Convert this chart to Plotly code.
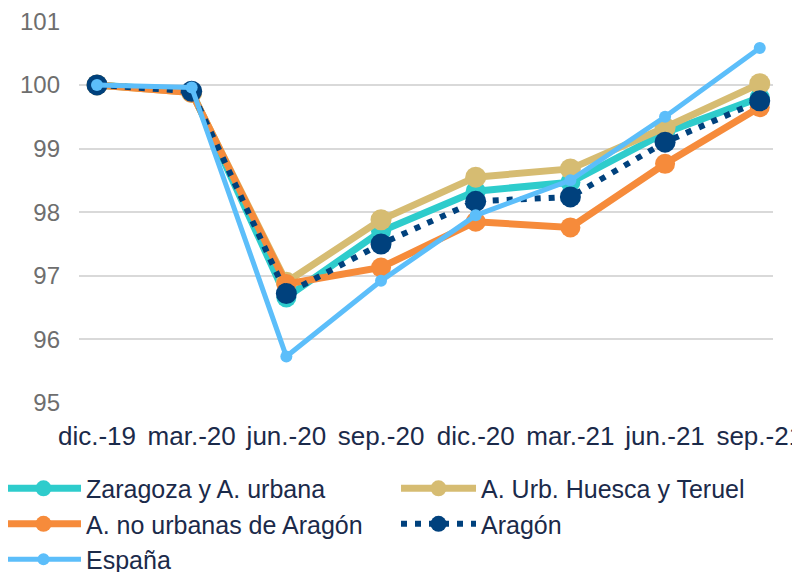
import plotly.graph_objects as go

categories = ["dic.-19", "mar.-20", "jun.-20", "sep.-20", "dic.-20", "mar.-21", "jun.-21", "sep.-21"]

zaragoza = [100.0, 99.90, 96.66, 97.70, 98.33, 98.47, 99.25, 99.80]
huesca_teruel = [100.0, 99.88, 96.90, 97.88, 98.55, 98.68, 99.33, 100.02]
no_urbanas = [100.0, 99.88, 96.87, 97.13, 97.85, 97.76, 98.76, 99.65]
aragon = [100.0, 99.90, 96.72, 97.50, 98.17, 98.24, 99.10, 99.75]
espana = [100.0, 99.96, 95.73, 96.92, 97.95, 98.50, 99.50, 100.58]

y_ticks = [95, 96, 97, 98, 99, 100, 101]

# name, values, colour, line width, marker size, dash, legend
series = [
    ("Zaragoza y A. urbana", zaragoza, "#2ECCCC", 7, 20, "solid", "legend"),
    ("A. Urb. Huesca y Teruel", huesca_teruel, "#D6BC72", 7, 21, "solid", "legend2"),
    ("A. no urbanas de Aragón", no_urbanas, "#F68B3B", 7, 20, "solid", "legend"),
    ("Aragón", aragon, "#00417D", 6, 21, "6px,8px", "legend2"),
    ("España", espana, "#5CBEFA", 5, 12, "solid", "legend"),
]

fig = go.Figure()
for name, vals, color, lw, ms, dash, leg in series:
    fig.add_trace(go.Scatter(
        x=categories, y=vals, name=name, mode="lines+markers",
        line=dict(color=color, width=lw, dash=dash),
        marker=dict(color=color, size=ms, line=dict(width=0)),
        cliponaxis=False, legend=leg,
    ))

legend_common = dict(
    orientation="v", xref="paper", yref="container",
    xanchor="left", yanchor="top", y=0.2,
    font=dict(size=25, color="#1B2A4A"),
    itemwidth=75, tracegroupgap=0, bgcolor="rgba(0,0,0,0)",
    traceorder="normal",
)

fig.update_layout(
    width=800, height=572,
    margin=dict(l=71, r=35, t=13, b=177, autoexpand=False),
    paper_bgcolor="white", plot_bgcolor="white",
    font=dict(family="Liberation Sans, Arial, sans-serif", color="#1B2A4A"),
    showlegend=True,
    legend=dict(x=-0.1124, **legend_common),
    legend2=dict(x=0.4568, **legend_common),
)
fig.update_xaxes(
    type="category", range=[-0.19, 7.14],
    showgrid=False, showline=False, zeroline=False,
    ticks="", tickfont=dict(size=26, color="#1B2A4A"),
    ticklabelstandoff=15, ticklabeloverflow="allow",
)
fig.update_yaxes(
    range=[95, 101.005], tickvals=y_ticks,
    showgrid=True, gridcolor="#D9D9D9", gridwidth=2,
    zeroline=False, showline=False, ticks="",
    tickfont=dict(size=24, color="#6E6E6E"),
    ticklabelstandoff=18, ticklabeloverflow="allow",
)

fig.write_html("out.html")
